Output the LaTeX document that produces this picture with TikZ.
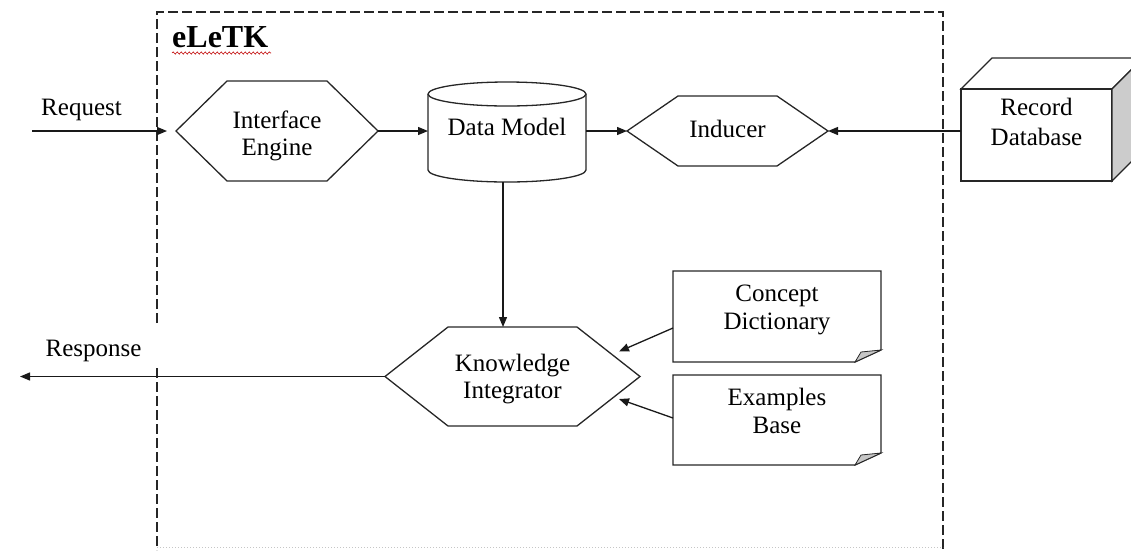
\documentclass[tikz,border=0pt]{standalone}
\usepackage{fontspec}
\setmainfont{Liberation Serif}
\usetikzlibrary{arrows.meta,calc,decorations.pathmorphing}
\newcommand\lblfont{\fontsize{25}{28}\selectfont}
\newcommand\titlefont{\fontsize{32}{36}\selectfont\bfseries}
% hexagon drawn on the box of node #1, with slanted ends of width #2
\newcommand\hexpath[2]{%
  \draw[outline] (#1.west) -- ([xshift=#2]#1.north west) -- ([xshift=-#2]#1.north east)
    -- (#1.east) -- ([xshift=-#2]#1.south east) -- ([xshift=#2]#1.south west) -- cycle;}
% sheet with a folded lower right corner, on the box of node #1
\newcommand\docpath[1]{%
  \draw[outline] (#1.north west) -- (#1.north east) -- ([yshift=12pt]#1.south east)
    -- ([xshift=-26pt]#1.south east) -- (#1.south west) -- cycle;
  \draw[outline, line width=0.8pt, fill=gray!45] ([xshift=-26pt]#1.south east)
    -- ([xshift=-20pt,yshift=10pt]#1.south east) -- ([yshift=12pt]#1.south east) -- cycle;}
\begin{document}
\begin{tikzpicture}[x=1pt, y=-1pt,
  outline/.style={draw=black!85, line width=1.3pt, line join=miter},
  holder/.style={inner sep=0pt, outer sep=0pt},
  txt/.style={inner sep=0pt, align=center, font=\lblfont},
  arr/.style={draw=black!90, line width=1.3pt, -{Triangle[length=10pt,width=8pt]}},
  frame/.style={draw=black!85, line width=1.2pt, dash pattern=on 10pt off 4pt},
]
\useasboundingbox (0,0) rectangle (1131,550);
\clip (0,0) rectangle (1131,550);

% system boundary
\draw[frame] (157,323) -- (157,12) -- (943,12) -- (943,550);
\draw[frame] (157,368) -- (157,550);
\draw[gray!45, line width=1pt, dotted] (157,547) -- (943,547);
\node[anchor=base west, inner sep=0pt, font=\titlefont] (title) at (172,47) {eLeTK};
\draw[red!75!black, line width=0.6pt, decorate,
      decoration={snake, amplitude=1.1pt, segment length=4pt}] (172,53) -- (271,53);

% component outlines
\node[holder, minimum width=202pt, minimum height=100pt] (ie) at (277,131) {};
\node[holder, minimum width=158pt, minimum height=100pt] (dm) at (507,132) {};
\node[holder, minimum width=201pt, minimum height=70pt] (ind) at (727.5,131) {};
\node[holder, minimum width=151pt, minimum height=92pt] (rdb) at (1036.5,135) {};
\node[holder, minimum width=255pt, minimum height=99pt] (ki) at (512.5,376.5) {};
\node[holder, minimum width=208pt, minimum height=91pt] (cd) at (777,316.5) {};
\node[holder, minimum width=208pt, minimum height=90pt] (eb) at (777,420) {};

\hexpath{ie}{51pt}
\hexpath{ind}{51pt}
\hexpath{ki}{63pt}

% cylinder
\draw[outline, fill=white] ([yshift=-12pt]dm.north west) -- ([yshift=12pt]dm.south west)
  arc[start angle=180, end angle=360, x radius=79pt, y radius=12pt]
  -- ([yshift=-12pt]dm.north east)
  arc[start angle=0, end angle=180, x radius=79pt, y radius=12pt];
\draw[outline] ([yshift=-12pt]dm.north west)
  arc[start angle=180, end angle=360, x radius=79pt, y radius=12pt];

% cube
\draw[outline, fill=white] (rdb.north west) rectangle (rdb.south east);
\draw[outline] (rdb.north west) -- ++(31,-31) -- ++(151,0) -- (rdb.north east) -- cycle;
\draw[outline, fill=gray!40] (rdb.north east) -- ++(31,-31) -- ++(0,92) -- (rdb.south east) -- cycle;

% sheets
\docpath{cd}
\docpath{eb}

% labels
\node[txt] (ie-t) at (277,135.7) {Interface\\[-1pt]Engine};
\node[txt, anchor=base] (dm-t) at (507,135) {Data Model};
\node[txt, anchor=base] (ind-t) at (727.5,137) {Inducer};
\node[txt] (rdb-t) at (1036.5,121.5) {Record\\[2pt]Database};
\node[txt] (ki-t) at (512.5,379.5) {Knowledge\\[-1pt]Integrator};
\node[txt] (cd-t) at (777,310) {Concept\\Dictionary};
\node[txt] (eb-t) at (777,410.5) {Examples\\Base};
\node[txt, anchor=base] (req-t) at (81.5,115) {Request};
\node[txt, anchor=base] (resp-t) at (93.5,356) {Response};

% connectors
\coordinate (req) at (32,131);
\coordinate (resp) at (20,376.5);
\draw[arr, shorten >=9pt] (req) -- (ie.west);
\draw[arr] (ie.east) -- (ie.east -| dm.west);
\draw[arr] (dm.east |- ind.west) -- (ind.west);
\draw[arr] (rdb.west |- ind.east) -- (ind.east);
\draw[arr] ([xshift=-4pt]dm.south) -- ([xshift=-4pt]dm.south |- ki.north);
\draw[arr] ($(cd.west)+(0,11.5)$) -- ($(ki.east)+(-21,-25)$);
\draw[arr] ($(eb.west)+(0,-2)$) -- ($(ki.east)+(-21,22.5)$);
\draw[arr] (ki.west) -- (resp);
\end{tikzpicture}
\end{document}
